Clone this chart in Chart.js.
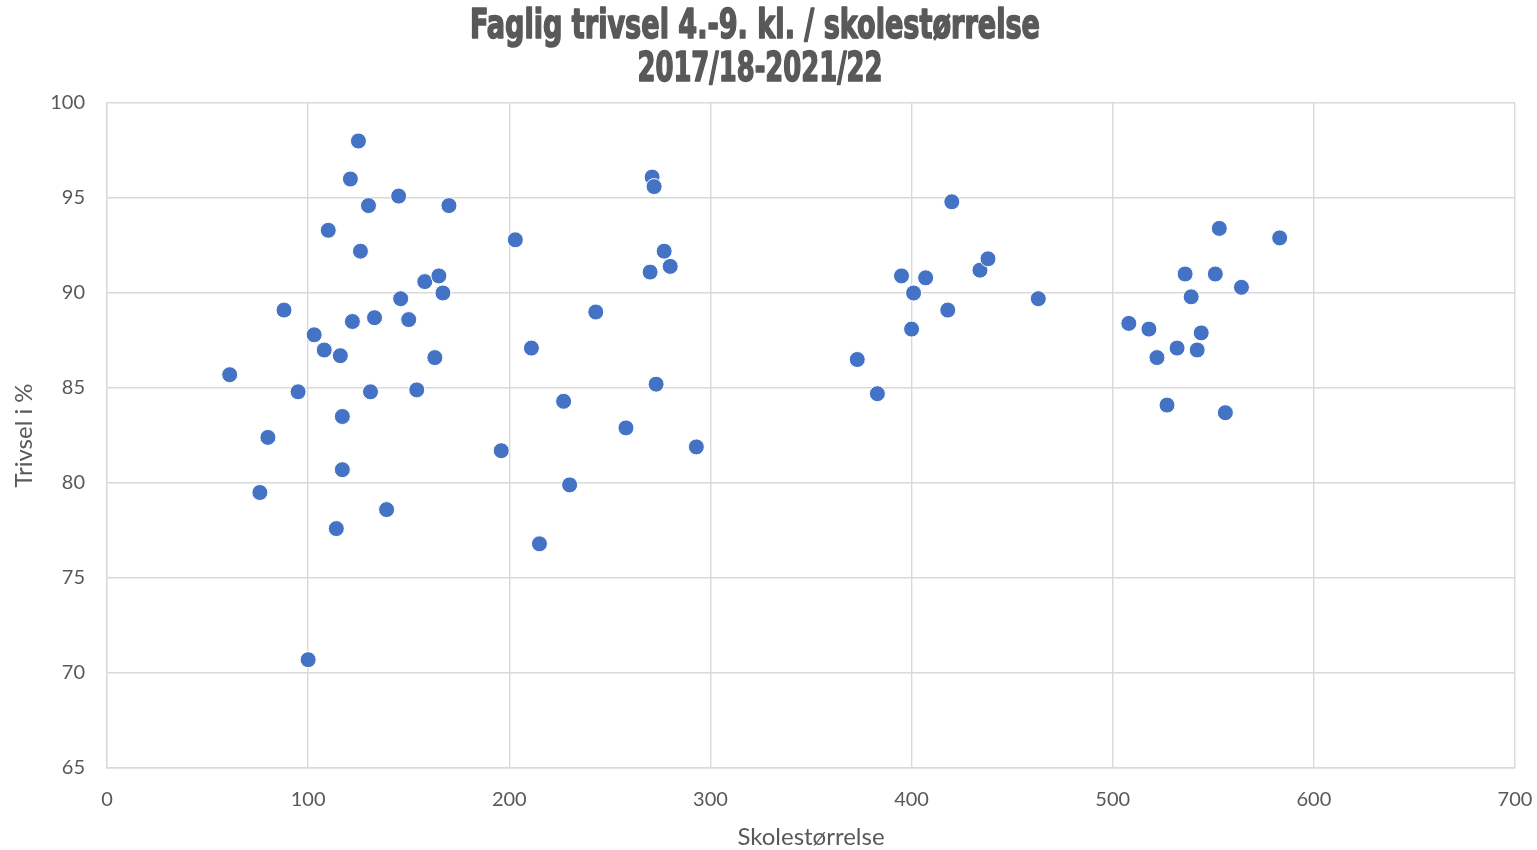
<!DOCTYPE html>
<html>
<head>
<meta charset="utf-8">
<title>Faglig trivsel / skolestørrelse</title>
<script src="https://cdn.jsdelivr.net/npm/chart.js@4.4.0/dist/chart.umd.min.js"></script>
<style>
    html, body {margin: 0; padding: 0; background: #fff;}
    #wrap {width: 1537px; height: 850px;}
</style>
</head>
<body>
<div id="wrap"><canvas id="chart"></canvas></div>
<script>
// skolestørrelse (antall elever) per skole
const skolestorrelse = [
    61, 76, 80, 88, 95, 100, 103, 108, 110, 114,
    116, 117, 117, 121, 122, 125, 126, 130, 131, 133,
    139, 145, 146, 150, 154, 158, 163, 165, 167, 170,
    196, 203, 211, 215, 227, 230, 243, 258, 270, 271,
    272, 273, 277, 280, 293, 373, 383, 395, 400, 401,
    407, 418, 420, 434, 438, 463, 508, 518, 522, 527,
    532, 536, 539, 542, 544, 551, 553, 556, 564, 583
];
// faglig trivsel i prosent
const trivsel = [
    85.7, 79.5, 82.4, 89.1, 84.8, 70.7, 87.8, 87.0, 93.3, 77.6,
    86.7, 83.5, 80.7, 96.0, 88.5, 98.0, 92.2, 94.6, 84.8, 88.7,
    78.6, 95.1, 89.7, 88.6, 84.9, 90.6, 86.6, 90.9, 90.0, 94.6,
    81.7, 92.8, 87.1, 76.8, 84.3, 79.9, 89.0, 82.9, 91.1, 96.1,
    95.6, 85.2, 92.2, 91.4, 81.9, 86.5, 84.7, 90.9, 88.1, 90.0,
    90.8, 89.1, 94.8, 91.2, 91.8, 89.7, 88.4, 88.1, 86.6, 84.1,
    87.1, 91.0, 89.8, 87.0, 87.9, 91.0, 93.4, 83.7, 90.3, 92.9
];
const tittel = ['Faglig trivsel 4.-9. kl. / skolestørrelse', '2017/18-2021/22'];
const xTittel = 'Skolestørrelse';
const yTittel = 'Trivsel i %';

const punkter = skolestorrelse.map((x, i) => ({x: x, y: trivsel[i]}));

// tittel tegnes smalt og kraftig, slik som i originalen
const smalTittel = {
    id: 'smalTittel',
    afterDraw(chart) {
        const ctx = chart.ctx;
        ctx.save();
        ctx.fillStyle = '#595959';
        ctx.strokeStyle = '#595959';
        ctx.lineWidth = 1.6;
        ctx.lineJoin = 'round';
        ctx.textAlign = 'center';
        ctx.textBaseline = 'middle';
        ctx.font = 'bold 40px "Liberation Sans Narrow", "DejaVu Sans Condensed", sans-serif';
        const bredder = [570, 245];
        const midtY = [28, 71];
        const midtX = [755, 760];
        tittel.forEach((linje, i) => {
            const w = ctx.measureText(linje).width;
            const s = bredder[i] / w;
            ctx.save();
            ctx.translate(midtX[i], midtY[i]);
            ctx.scale(s, 1);
            ctx.fillText(linje, 0, 0);
            ctx.strokeText(linje, 0, 0);
            ctx.restore();
        });
        ctx.restore();
    }
};

const ctx = document.getElementById('chart').getContext('2d');
new Chart(ctx, {
    type: 'scatter',
    data: {
        datasets: [{
            label: 'Trivsel',
            data: punkter,
            backgroundColor: '#4472C4',
            borderColor: '#ffffff',
            borderWidth: 1,
            pointRadius: 8,
            pointHoverRadius: 8
        }]
    },
    options: {
        responsive: true,
        maintainAspectRatio: false,
        animation: false,
        layout: {
            padding: {top: 103, right: 22, left: 0, bottom: 0}
        },
        plugins: {
            legend: {display: false},
            tooltip: {enabled: false}
        },
        scales: {
            x: {
                type: 'linear',
                min: 0,
                max: 700,
                ticks: {
                    stepSize: 100,
                    color: '#595959',
                    padding: 20,
                    font: {family: 'Lato, "Open Sans", sans-serif', size: 20}
                },
                grid: {color: '#d9d9d9', lineWidth: 1.4, drawTicks: false},
                border: {color: '#d9d9d9', width: 1.4},
                title: {
                    display: true,
                    text: xTittel,
                    color: '#595959',
                    padding: {top: 0, bottom: -2},
                    font: {family: 'Lato, "Open Sans", sans-serif', size: 24}
                },
                afterFit: (scale) => {
                    scale.height = 82;
                    scale.paddingRight = 0;
                    scale.paddingLeft = 0;
                }
            },
            y: {
                min: 65,
                max: 100,
                ticks: {
                    stepSize: 5,
                    color: '#595959',
                    padding: 22,
                    font: {family: 'Lato, "Open Sans", sans-serif', size: 20}
                },
                grid: {color: '#d9d9d9', lineWidth: 1.4, drawTicks: false},
                border: {color: '#d9d9d9', width: 1.4},
                title: {
                    display: true,
                    text: yTittel,
                    color: '#595959',
                    padding: {top: 10, bottom: 0},
                    font: {family: 'Lato, "Open Sans", sans-serif', size: 24}
                },
                afterFit: (scale) => { scale.width = 107; }
            }
        }
    },
    plugins: [smalTittel]
});
</script>
</body>
</html>
